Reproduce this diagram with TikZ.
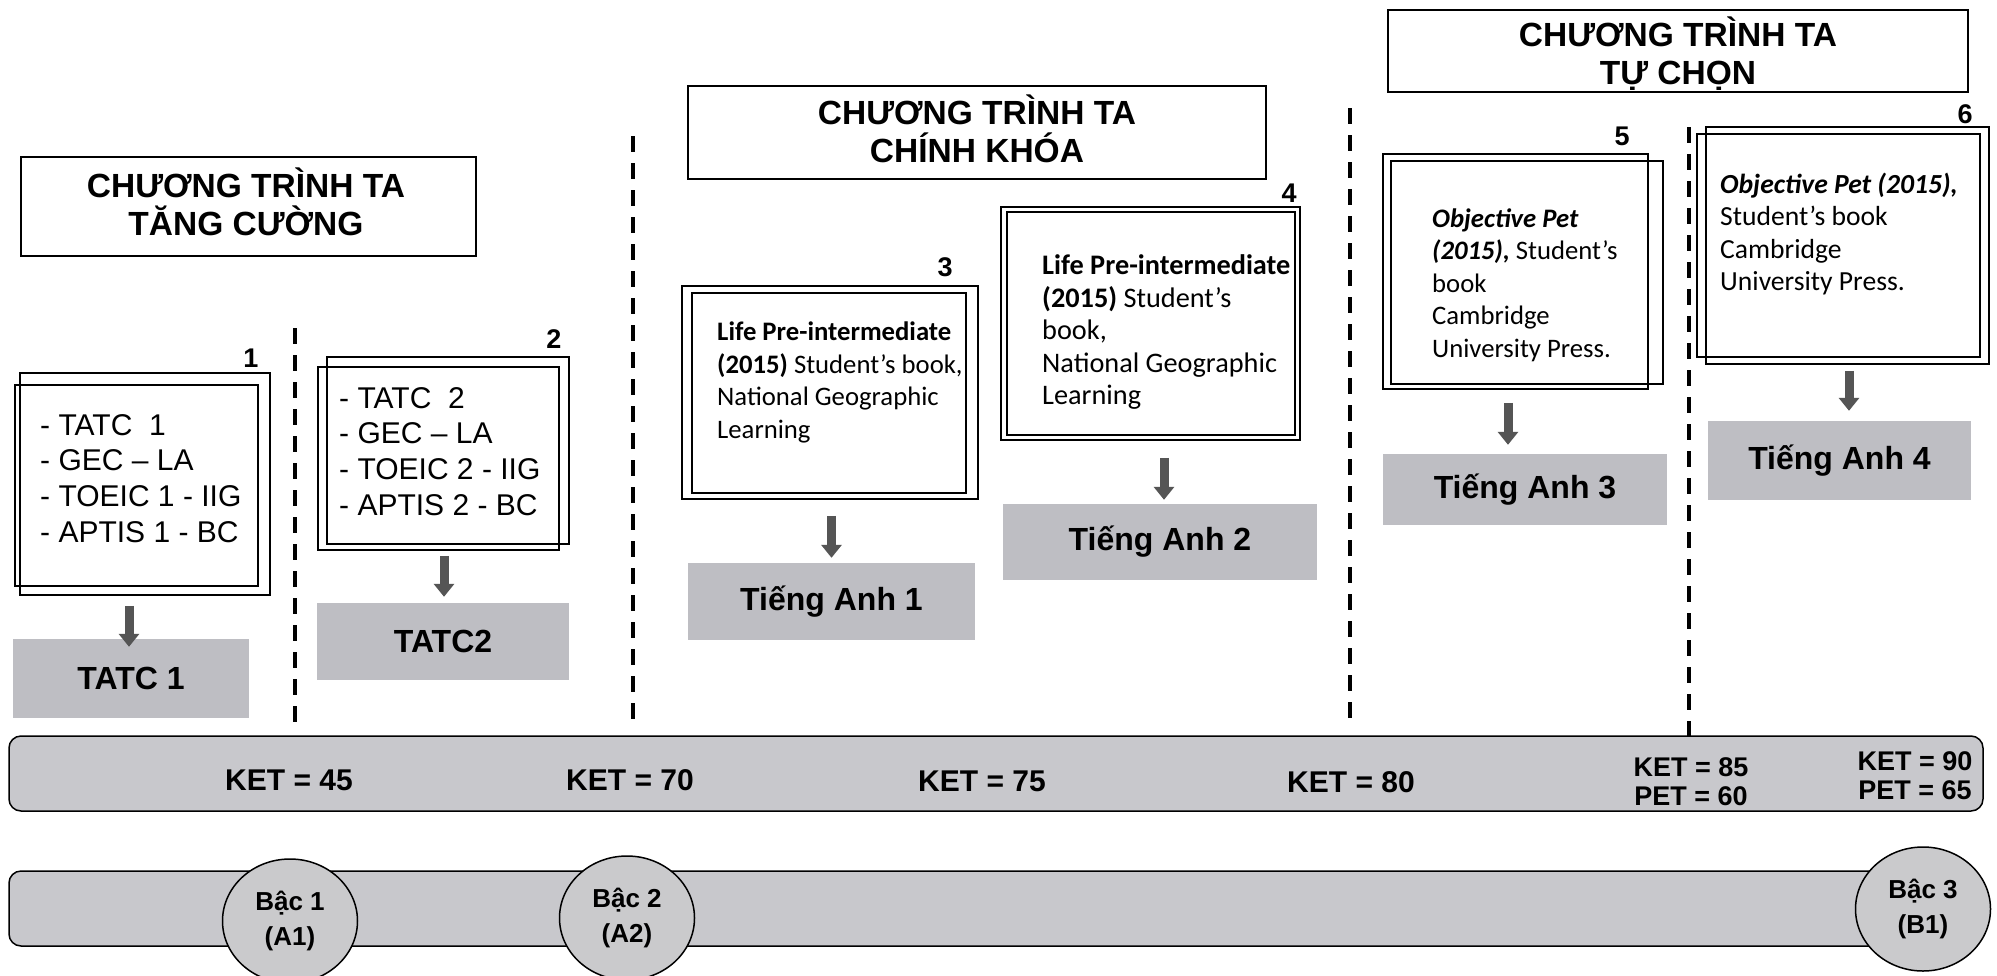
\documentclass[tikz,border=0pt]{standalone}
\usepackage{fontspec}
\setmainfont{Liberation Sans}
\newfontfamily\carl{Carlito}
\usetikzlibrary{arrows.meta,shapes.geometric}
\definecolor{arrgray}{HTML}{555555}
\definecolor{bargray}{HTML}{C8C8CC}
\definecolor{boxgray}{HTML}{BEBEC3}
\definecolor{ellgray}{HTML}{CACACC}
\begin{document}
\begin{tikzpicture}[x=1pt,y=-1pt,
  titlebox/.style={draw, line width=2.2pt, inner sep=0pt},
  titletxt/.style={inner sep=0pt, align=center, font=\bfseries\fontsize{33.5}{38}\selectfont},
  frame/.style={draw, line width=1.6pt, inner sep=0pt},
  listtxt/.style={align=left, anchor=west, inner sep=0pt, font=\fontsize{30}{35.7}\selectfont},
  booktxt/.style={align=left, anchor=west, inner sep=0pt, font=\carl\fontsize{26.7}{32.5}\selectfont},
  num/.style={inner sep=0pt, font=\bfseries\fontsize{27}{30}\selectfont},
  gbox/.style={fill=boxgray, inner sep=0pt, font=\bfseries\fontsize{32}{38}\selectfont},
  arr/.style={draw=arrgray, line width=9pt, -{Triangle[width=20pt,length=13pt]}},
  sep/.style={line width=4.5pt, dash pattern=on 16pt off 11pt},
  bar/.style={draw, line width=1.5pt, fill=bargray, rounded corners=12pt, inner sep=0pt},
  bartxt/.style={inner sep=0pt, align=center, font=\bfseries\fontsize{30}{30}\selectfont},
  bartxts/.style={inner sep=0pt, align=center, font=\bfseries\fontsize{27}{29}\selectfont},
  ell/.style={ellipse, draw, line width=1.5pt, fill=ellgray, inner sep=0pt, minimum width=135pt, minimum height=124pt, align=center, font=\bfseries\fontsize{26}{35}\selectfont}
]
\useasboundingbox (0,0) rectangle (1997,975);
\clip (0,0) rectangle (1997,975);
\fill[white] (0,0) rectangle (1997,975);

% titles
\node[titlebox, minimum width=455pt, minimum height=99pt] (t1) at (248.5,206.5) {};
\node[titletxt] (t1t) at (246,201.5) {CHƯƠNG TRÌNH TA\\TĂNG CƯỜNG};
\node[titlebox, minimum width=578pt, minimum height=93pt] (t2) at (977,132.5) {};
\node[titletxt] (t2t) at (977,128.5) {CHƯƠNG TRÌNH TA\\CHÍNH KHÓA};
\node[titlebox, minimum width=580pt, minimum height=82pt] (t3) at (1678,51) {};
\node[titletxt] (t3t) at (1678,54) {CHƯƠNG TRÌNH TA\\TỰ CHỌN};

% separators
\draw[sep] (295,328) -- (295,728);
\draw[sep] (633,136) -- (633,728);
\draw[sep] (1350,108) -- (1350,728);
\draw[sep] (1689,127) -- (1689,736);

% frames
\node[frame, minimum width=250pt, minimum height=222pt] (b1a) at (145,484) {};
\node[frame, minimum width=243pt, minimum height=201pt] (b1b) at (136.5,485.5) {};
\node[frame, minimum width=242pt, minimum height=187pt] (b2a) at (448,450.5) {};
\node[frame, minimum width=241pt, minimum height=183pt] (b2b) at (438.5,458.5) {};
\node[frame, minimum width=296pt, minimum height=213pt] (b3a) at (830,392.5) {};
\node[frame, minimum width=274pt, minimum height=200pt] (b3b) at (829,393) {};
\node[frame, minimum width=299pt, minimum height=233pt] (b4a) at (1150.5,323.5) {};
\node[frame, minimum width=288pt, minimum height=223pt] (b4b) at (1151,323.5) {};
\node[frame, minimum width=265pt, minimum height=235pt] (b5a) at (1515.5,271.5) {};
\node[frame, minimum width=272pt, minimum height=223pt] (b5b) at (1527,272.5) {};
\node[frame, minimum width=283pt, minimum height=237pt] (b6a) at (1847.5,245.5) {};
\node[frame, minimum width=283pt, minimum height=223pt] (b6b) at (1838.5,245.5) {};

% numbers
\node[num] (n1) at (251,358) {1};
\node[num] (n2) at (554,339) {2};
\node[num] (n3) at (945,267) {3};
\node[num] (n4) at (1289,193) {4};
\node[num] (n5) at (1622,136) {5};
\node[num] (n6) at (1965,114) {6};

% texts
\node[listtxt] (l1) at (40,478.5) {- TATC\ \ 1\\- GEC – LA\\- TOEIC 1 - IIG\\- APTIS 1 - BC};
\node[listtxt] (l2) at (339,451.5) {- TATC\ \ 2\\- GEC – LA\\- TOEIC 2 - IIG\\- APTIS 2 - BC};
\node[booktxt] (l3) at (717,382.5) {\textbf{Life Pre-intermediate}\\\textbf{(2015)} Student’s book,\\National Geographic\\Learning};
\node[booktxt, font=\carl\fontsize{28.3}{32.5}\selectfont] (l4) at (1042,332) {\textbf{Life Pre-intermediate}\\\textbf{(2015)} Student’s\\book,\\National Geographic\\Learning};
\node[booktxt] (l5) at (1432,285) {\textbf{\textit{Objective Pet}}\\\textbf{\textit{(2015),}} Student’s\\book\\Cambridge\\University Press.};
\node[booktxt, font=\carl\fontsize{27.6}{32.5}\selectfont] (l6) at (1720,234) {\textbf{\textit{Objective Pet (2015),}}\\Student’s book\\Cambridge\\University Press.};

% gray boxes
\node[gbox, minimum width=236pt, minimum height=79pt] (g1) at (131,678.5) {TATC 1};
\node[gbox, minimum width=252pt, minimum height=77pt] (g2) at (443,641.5) {TATC2};
\node[gbox, minimum width=287pt, minimum height=77pt] (g3) at (831.5,601.5) {Tiếng Anh 1};
\node[gbox, minimum width=314pt, minimum height=76pt] (g4) at (1160,542) {Tiếng Anh 2};
\node[gbox, minimum width=284pt, minimum height=71pt] (g5) at (1525,489.5) {Tiếng Anh 3};
\node[gbox, minimum width=263pt, minimum height=79pt] (g6) at (1839.5,460.5) {Tiếng Anh 4};

% arrows
\draw[arr, shorten <=10pt, shorten >=-8pt] ([xshift=-2pt]g1.north |- b1a.south) -- ([xshift=-2pt]g1.north);
\draw[arr, shorten <=5pt, shorten >=6pt] ([xshift=1pt]g2.north |- b2b.south) -- ([xshift=1pt]g2.north);
\draw[arr, shorten <=16pt, shorten >=5pt] (g3.north |- b3a.south) -- (g3.north);
\draw[arr, shorten <=17pt, shorten >=4pt] ([xshift=4pt]g4.north |- b4a.south) -- ([xshift=4pt]g4.north);
\draw[arr, shorten <=13pt, shorten >=9pt] ([xshift=-17pt]g5.north |- b5a.south) -- ([xshift=-17pt]g5.north);
\draw[arr, shorten <=6pt, shorten >=10pt] ([xshift=9.5pt]g6.north |- b6a.south) -- ([xshift=9.5pt]g6.north);

% bars
\node[bar, minimum width=1974pt, minimum height=75pt] (bar1) at (996,773.5) {};
\node[bar, minimum width=1971pt, minimum height=75pt] (bar2) at (994.5,908.5) {};
\node[bartxt] (k1) at (289,780) {KET = 45};
\node[bartxt] (k2) at (630,780) {KET = 70};
\node[bartxt] (k3) at (982,781) {KET = 75};
\node[bartxt] (k4) at (1351,782) {KET = 80};
\node[bartxts] (k5) at (1691,782) {KET = 85\\PET = 60};
\node[bartxts] (k6) at (1915,776) {KET = 90\\PET = 65};

% levels
\node[ell] (e1) at (290,921) {Bậc 1\\(A1)};
\node[ell] (e2) at (627,918) {Bậc 2\\(A2)};
\node[ell] (e3) at (1923,909) {Bậc 3\\(B1)};
\end{tikzpicture}
\end{document}
